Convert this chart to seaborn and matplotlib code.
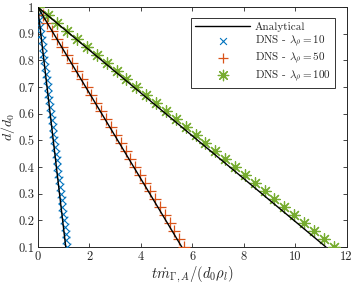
import matplotlib
matplotlib.use("Agg")
import matplotlib.pyplot as plt
import seaborn as sns

sns.set_style("ticks")
plt.rcParams["mathtext.fontset"] = "cm"
plt.rcParams["font.family"] = ["cmr10", "DejaVu Serif"]
plt.rcParams["axes.formatter.use_mathtext"] = True

# analytical solution (straight lines from d/d0 = 1 to 0.1)
d_analytical = [1.0, 0.1]
t_analytical_10 = [0.0, 1.09]
t_analytical_50 = [0.0, 5.60]
t_analytical_100 = [0.0, 11.2]

# DNS lambda_rho = 10
d_dns_10 = [1.0, 0.975, 0.95, 0.925, 0.9, 0.875, 0.85, 0.825, 0.8, 0.775, 0.75, 0.725, 0.7,
            0.675, 0.65, 0.625, 0.6, 0.575, 0.55, 0.525, 0.5, 0.475, 0.45, 0.425, 0.4, 0.375,
            0.35, 0.325, 0.3, 0.275, 0.25, 0.225, 0.2, 0.175, 0.15, 0.125, 0.1]
t_dns_10 = [0.0, 0.032, 0.064, 0.096, 0.128, 0.160, 0.192, 0.224, 0.256, 0.288, 0.319, 0.351,
            0.383, 0.415, 0.447, 0.479, 0.511, 0.543, 0.575, 0.607, 0.639, 0.671, 0.703, 0.735,
            0.767, 0.799, 0.831, 0.863, 0.894, 0.926, 0.958, 0.990, 1.022, 1.054, 1.086, 1.118, 1.150]

# DNS lambda_rho = 50
d_dns_50 = [1.0, 0.97, 0.94, 0.91, 0.88, 0.85, 0.82, 0.79, 0.76, 0.73, 0.70, 0.67, 0.64, 0.61,
            0.58, 0.55, 0.52, 0.49, 0.46, 0.43, 0.40, 0.37, 0.34, 0.31, 0.28, 0.25, 0.22, 0.19,
            0.16, 0.13, 0.10]
t_dns_50 = [0.0, 0.190, 0.379, 0.569, 0.759, 0.948, 1.138, 1.328, 1.517, 1.707, 1.897, 2.086,
            2.276, 2.466, 2.655, 2.845, 3.035, 3.224, 3.414, 3.604, 3.793, 3.983, 4.173, 4.362,
            4.552, 4.742, 4.931, 5.121, 5.311, 5.500, 5.690]

# DNS lambda_rho = 100
d_dns_100 = d_dns_50
t_dns_100 = [0.0, 0.383, 0.767, 1.150, 1.533, 1.917, 2.300, 2.683, 3.067, 3.450, 3.833, 4.217,
             4.600, 4.983, 5.367, 5.750, 6.133, 6.517, 6.900, 7.283, 7.667, 8.050, 8.433, 8.817,
             9.200, 9.583, 9.967, 10.350, 10.733, 11.117, 11.500]

blue = "#0072BD"
red = "#D95319"
green = "#77AC30"

fig = plt.figure(figsize=(3.54, 2.84), dpi=100)
ax = fig.add_axes([0.1065, 0.130, 0.8725, 0.845])

sns.lineplot(x=t_analytical_10, y=d_analytical, ax=ax, color="black", lw=1.0, zorder=5, label="Analytical")
sns.lineplot(x=t_analytical_50, y=d_analytical, ax=ax, color="black", lw=1.0, zorder=5)
sns.lineplot(x=t_analytical_100, y=d_analytical, ax=ax, color="black", lw=1.0, zorder=5)

sns.scatterplot(x=t_dns_10, y=d_dns_10, ax=ax, marker="x", s=30, linewidth=0.8,
                color=blue, label=r"DNS - $\lambda_\rho=10$", zorder=3)
sns.scatterplot(x=t_dns_50, y=d_dns_50, ax=ax, marker="+", s=70, linewidth=0.9,
                color=red, label=r"DNS - $\lambda_\rho=50$", zorder=3)
sns.scatterplot(x=t_dns_100, y=d_dns_100, ax=ax, marker=(8, 2, 0), s=70, linewidth=0.9,
                color=green, label=r"DNS - $\lambda_\rho=100$", zorder=3)

ax.set_xlim(0, 12)
ax.set_ylim(0.1, 1.0)
ax.set_xticks([0, 2, 4, 6, 8, 10, 12])
ax.set_xticklabels(["0", "2", "4", "6", "8", "10", "12"])
ax.set_yticks([0.1, 0.2, 0.3, 0.4, 0.5, 0.6, 0.7, 0.8, 0.9, 1.0])
ax.set_yticklabels(["0.1", "0.2", "0.3", "0.4", "0.5", "0.6", "0.7", "0.8", "0.9", "1"])
ax.tick_params(direction="in", length=3, width=0.6, labelsize=9, top=True, right=True, pad=2.5,
               color="#262626", labelcolor="#262626")
for s in ax.spines.values():
    s.set_visible(True)
    s.set_linewidth(0.7)
    s.set_color("#262626")

ax.set_xlabel(r"$t\dot{m}_{\Gamma,A}/(d_0\rho_l)$", fontsize=10.5)
ax.set_ylabel(r"$d/d_0$", fontsize=10)
ax.xaxis.set_label_coords(0.5, -0.075)
ax.yaxis.set_label_coords(-0.068, 0.5)

leg = ax.legend(loc="upper right", bbox_to_anchor=(0.962, 0.954), borderaxespad=0, fontsize=8,
                frameon=True, fancybox=False, edgecolor="black", handlelength=5.0,
                labelspacing=0.2, borderpad=0.35, handletextpad=0.4, markerscale=0.9)
leg.get_frame().set_linewidth(0.7)

fig.savefig("out.png", dpi=100)
